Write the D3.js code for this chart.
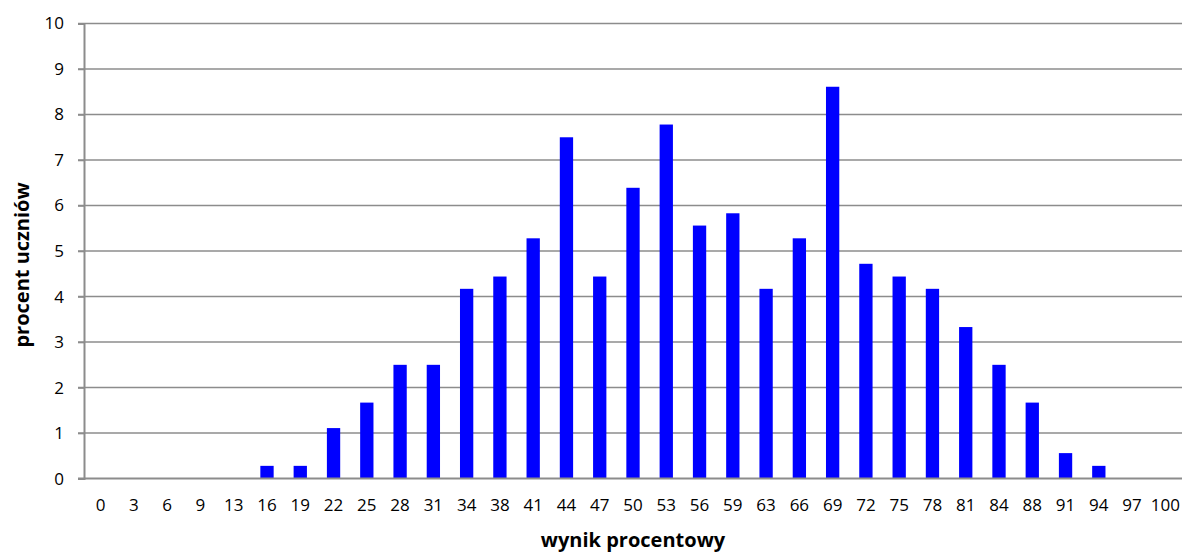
<!DOCTYPE html>
<html><head><meta charset="utf-8">
<script src="https://cdn.jsdelivr.net/npm/d3@7"></script>
<style>body{margin:0;background:#fff}svg{display:block}text{font-family:"Open Sans","Liberation Sans",sans-serif}</style>
</head><body>
<svg id="c" width="1184" height="555"></svg>
<script>
const categories = ["0","3","6","9","13","16","19","22","25","28","31","34","38","41","44","47","50","53","56","59","63","66","69","72","75","78","81","84","88","91","94","97","100"];
const values = [0,0,0,0,0,0.28,0.28,1.11,1.67,2.5,2.5,4.17,4.44,5.28,7.5,4.44,6.39,7.78,5.56,5.83,4.17,5.28,8.61,4.72,4.44,4.17,3.33,2.5,1.67,0.56,0.28,0,0];
const yTicks = [0,1,2,3,4,5,6,7,8,9,10];
const xTitle = "wynik procentowy";
const yTitle = "procent uczniów";

const svg = d3.select("#c");
const m = {l:84, r:1182, t:23.5, b:478.6};
const x = d3.scaleBand().domain(categories).range([m.l, m.r]).paddingInner(0.6).paddingOuter(0.3);
const y = d3.scaleLinear().domain([0,10]).range([m.b, m.t]);
const grid = "#8c8c8c";

// gridlines
svg.append("g").selectAll("line").data(yTicks.filter(d=>d>0)).join("line")
  .attr("x1", m.l-6).attr("x2", m.r).attr("y1", d=>y(d)).attr("y2", d=>y(d))
  .attr("stroke", grid).attr("stroke-width", 1.5);

// bars
svg.append("g").selectAll("rect").data(values).join("rect")
  .attr("x", (d,i)=>x(categories[i]))
  .attr("width", x.bandwidth())
  .attr("y", d=>y(d)).attr("height", d=>y(0)-y(d))
  .attr("fill", "#0000ff");

// y axis
const ya = svg.append("g").attr("transform", `translate(${m.l},0)`)
  .call(d3.axisLeft(y).tickValues(yTicks).tickSize(6).tickPadding(14));
ya.select(".domain").attr("stroke", grid).attr("stroke-width", 2);
ya.selectAll(".tick line").attr("stroke", grid).attr("stroke-width", 1.5);
ya.selectAll("text").attr("font-size", 17).attr("fill", "#000");

// x axis
const xa = svg.append("g").attr("transform", `translate(0,${m.b})`)
  .call(d3.axisBottom(x).tickSize(0).tickPadding(20));
xa.select(".domain").attr("stroke", grid).attr("stroke-width", 2).attr("d", `M${m.l-6},0H${m.r}`);
xa.selectAll("text").attr("font-size", 17).attr("fill", "#000");

svg.append("text").attr("x", (m.l+m.r)/2).attr("y", 547).attr("text-anchor","middle")
  .attr("font-size", 20).attr("font-weight","bold").text(xTitle);
svg.append("text").attr("transform", `translate(29,265) rotate(-90)`).attr("text-anchor","middle")
  .attr("font-size", 20).attr("font-weight","bold").text(yTitle);
</script>
</body></html>
